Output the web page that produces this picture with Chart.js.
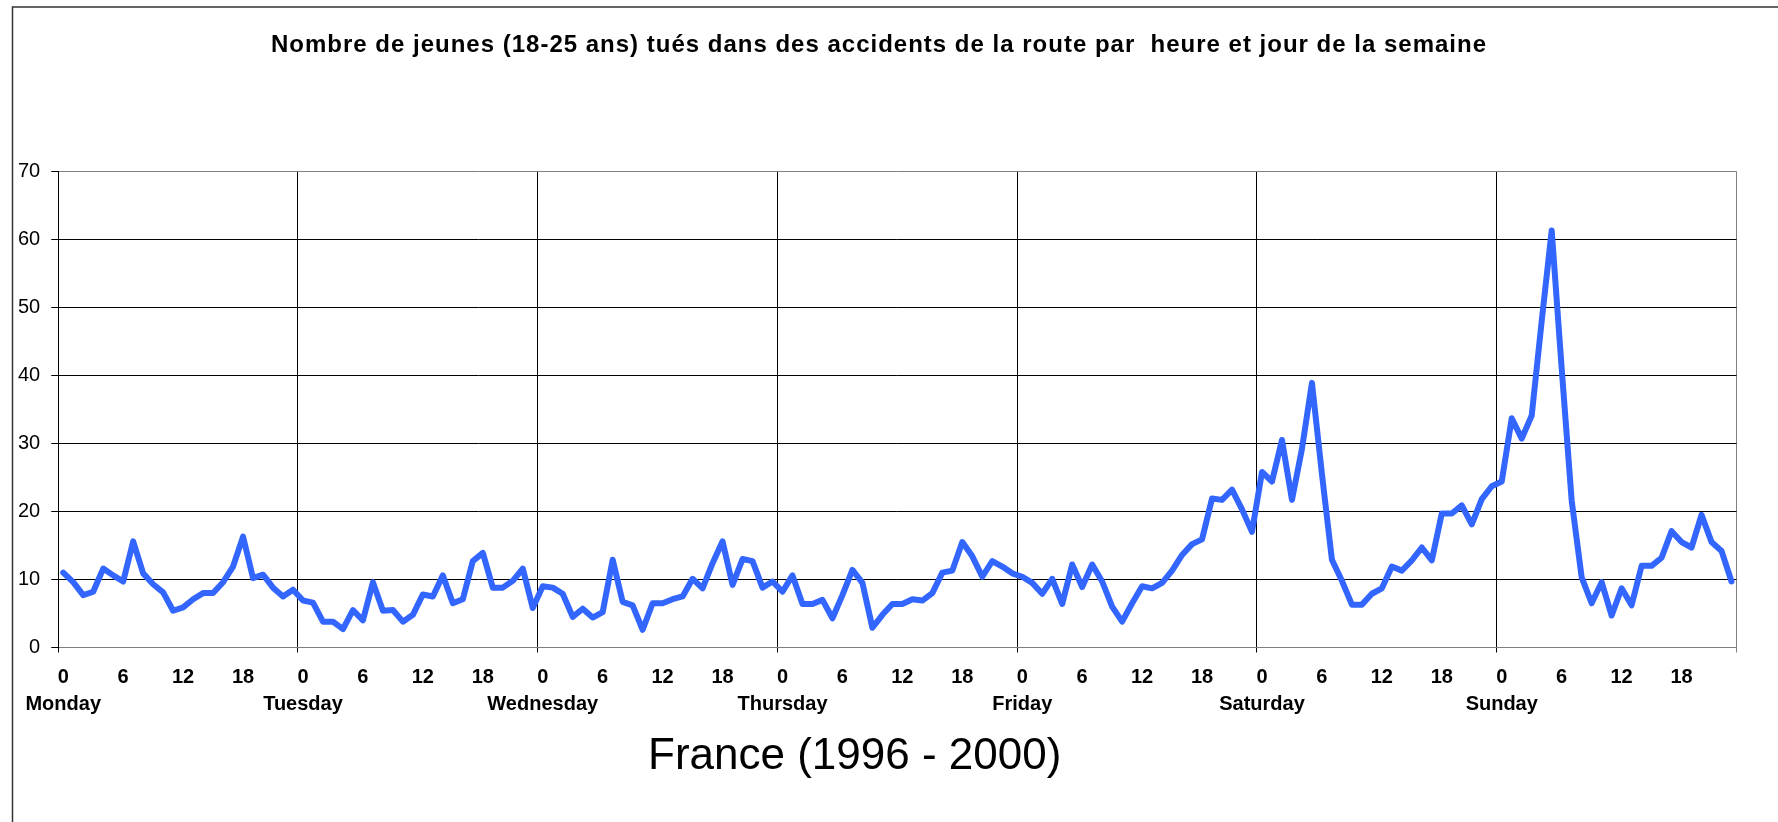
<!DOCTYPE html>
<html>
<head>
<meta charset="utf-8">
<script src="https://cdn.jsdelivr.net/npm/chart.js@4.4.1/dist/chart.umd.min.js"></script>
<style>
  html, body { margin: 0; padding: 0; background: #fff; }
</style>
</head>
<body>
<canvas id="mycanvas" width="1778" height="822"></canvas>
<script>
var titleText = 'Nombre de jeunes (18-25 ans) tués dans des accidents de la route par  heure et jour de la semaine';
var captionText = 'France (1996 - 2000)';
var days = ['Monday', 'Tuesday', 'Wednesday', 'Thursday', 'Friday', 'Saturday', 'Sunday'];
var hourTicks = [0, 6, 12, 18];

// killed young people (18-25) per hour, one array per day
var monday    = [11.0, 9.6, 7.7, 8.2, 11.6, 10.6, 9.7, 15.6, 10.9, 9.3, 8.1, 5.4, 5.9, 7.1, 8.0, 8.0, 9.6, 11.9, 16.3, 10.2, 10.7, 8.8, 7.5, 8.5];
var tuesday   = [6.9, 6.6, 3.8, 3.8, 2.7, 5.5, 4.0, 9.6, 5.4, 5.5, 3.8, 4.8, 7.8, 7.5, 10.6, 6.5, 7.1, 12.7, 13.9, 8.8, 8.8, 9.8, 11.6, 5.8];
var wednesday = [9.0, 8.8, 7.9, 4.5, 5.7, 4.4, 5.2, 12.9, 6.7, 6.2, 2.6, 6.5, 6.5, 7.1, 7.5, 10.1, 8.7, 12.4, 15.6, 9.2, 13.0, 12.7, 8.8, 9.7];
var thursday  = [8.2, 10.6, 6.4, 6.4, 7.0, 4.3, 7.7, 11.4, 9.5, 2.9, 4.8, 6.4, 6.4, 7.1, 6.9, 8.0, 11.0, 11.3, 15.5, 13.4, 10.4, 12.7, 11.9, 10.9];
var friday    = [10.4, 9.5, 7.9, 10.1, 6.4, 12.2, 8.9, 12.2, 9.7, 6.0, 3.8, 6.5, 9.0, 8.7, 9.5, 11.3, 13.6, 15.2, 15.9, 21.9, 21.7, 23.2, 20.3, 17.0];
var saturday  = [25.8, 24.4, 30.5, 21.7, 29.2, 38.9, 25.5, 12.9, 9.8, 6.3, 6.3, 7.9, 8.7, 11.9, 11.3, 12.8, 14.7, 12.8, 19.7, 19.7, 20.9, 18.1, 21.8, 23.7];
var sunday    = [24.4, 33.7, 30.7, 34.1, 48.0, 61.3, 41.0, 21.6, 10.3, 6.5, 9.6, 4.7, 8.7, 6.2, 12.0, 12.0, 13.2, 17.1, 15.5, 14.7, 19.5, 15.5, 14.2, 9.7];

var values = monday.concat(tuesday, wednesday, thursday, friday, saturday, sunday);
var labels = [];
for (var d = 0; d < days.length; d++) {
	for (var h = 0; h < 24; h++) {
		labels.push(days[d] + ' ' + h);
	}
}

var fontFamily = "'Liberation Sans', Arial, sans-serif";

// white background + the frame's left and top edge
var framePlugin = {
	id: 'frame',
	beforeDraw: function(chart) {
		var ctx = chart.ctx;
		ctx.save();
		ctx.fillStyle = '#fff';
		ctx.fillRect(0, 0, chart.width, chart.height);
		ctx.strokeStyle = '#333';
		ctx.lineWidth = 1.5;
		ctx.beginPath();
		ctx.moveTo(12.5, chart.height);
		ctx.lineTo(12.5, 7);
		ctx.lineTo(chart.width, 7);
		ctx.stroke();
		ctx.restore();
	}
};

// title (a bit wider spaced than the canvas default) and the big caption below the axis
var textPlugin = {
	id: 'texts',
	afterDraw: function(chart) {
		var ctx = chart.ctx;
		ctx.save();
		ctx.fillStyle = '#000';
		ctx.textAlign = 'center';
		ctx.textBaseline = 'middle';
		ctx.font = 'bold 24px ' + fontFamily;
		ctx.letterSpacing = '1px';
		ctx.fillText(titleText, 879, 45);
		ctx.letterSpacing = '0px';
		ctx.font = '44px ' + fontFamily;
		ctx.fillText(captionText, chart.width * 0.4807, 757);
		ctx.restore();
	}
};

var chartdata = {
	labels: labels,
	datasets: [
		{
			label: 'Tués',
			data: values,
			borderColor: '#3366FF',
			backgroundColor: '#3366FF',
			borderWidth: 6,
			borderJoinStyle: 'round',
			borderCapStyle: 'round',
			pointRadius: 0,
			tension: 0,
			fill: false
		}
	]
};

var ctx = document.getElementById('mycanvas');

var lineGraph = new Chart(ctx, {
	type: 'line',
	data: chartdata,
	plugins: [framePlugin, textPlugin],
	options: {
		responsive: false,
		animation: false,
		layout: {
			padding: { left: 7, right: 41.5, top: 171.3, bottom: 92.5 }
		},
		plugins: {
			legend: { display: false },
			tooltip: { enabled: false },
			title: { display: false }
		},
		scales: {
			x: {
				offset: true,
				grid: {
					offset: true,
					lineWidth: 1,
					tickLength: 5,
					color: function(c) {
						if (c.index === undefined) return '#808080';
						return c.index % 24 === 0 ? '#000' : 'rgba(0,0,0,0)';
					}
				},
				border: { color: '#808080' },
				ticks: {
					autoSkip: false,
					maxRotation: 0,
					minRotation: 0,
					padding: 12,
					color: '#000',
					font: { family: fontFamily, size: 20, weight: 'bold', lineHeight: 1.325 },
					callback: function(v, i) {
						var h = i % 24;
						if (hourTicks.indexOf(h) < 0) return '';
						if (h === 0) return ['0', days[Math.floor(i / 24)]];
						return String(h);
					}
				}
			},
			y: {
				min: 0,
				max: 70,
				ticks: {
					stepSize: 10,
					padding: 11,
					color: '#000',
					font: { family: fontFamily, size: 20 }
				},
				grid: {
					lineWidth: 1,
					tickLength: 7,
					tickColor: '#000',
					color: function(c) {
						if (c.tick && (c.tick.value === 0 || c.tick.value === 70)) return '#808080';
						return '#000';
					}
				},
				border: { color: '#000' }
			}
		}
	}
});
</script>
</body>
</html>
